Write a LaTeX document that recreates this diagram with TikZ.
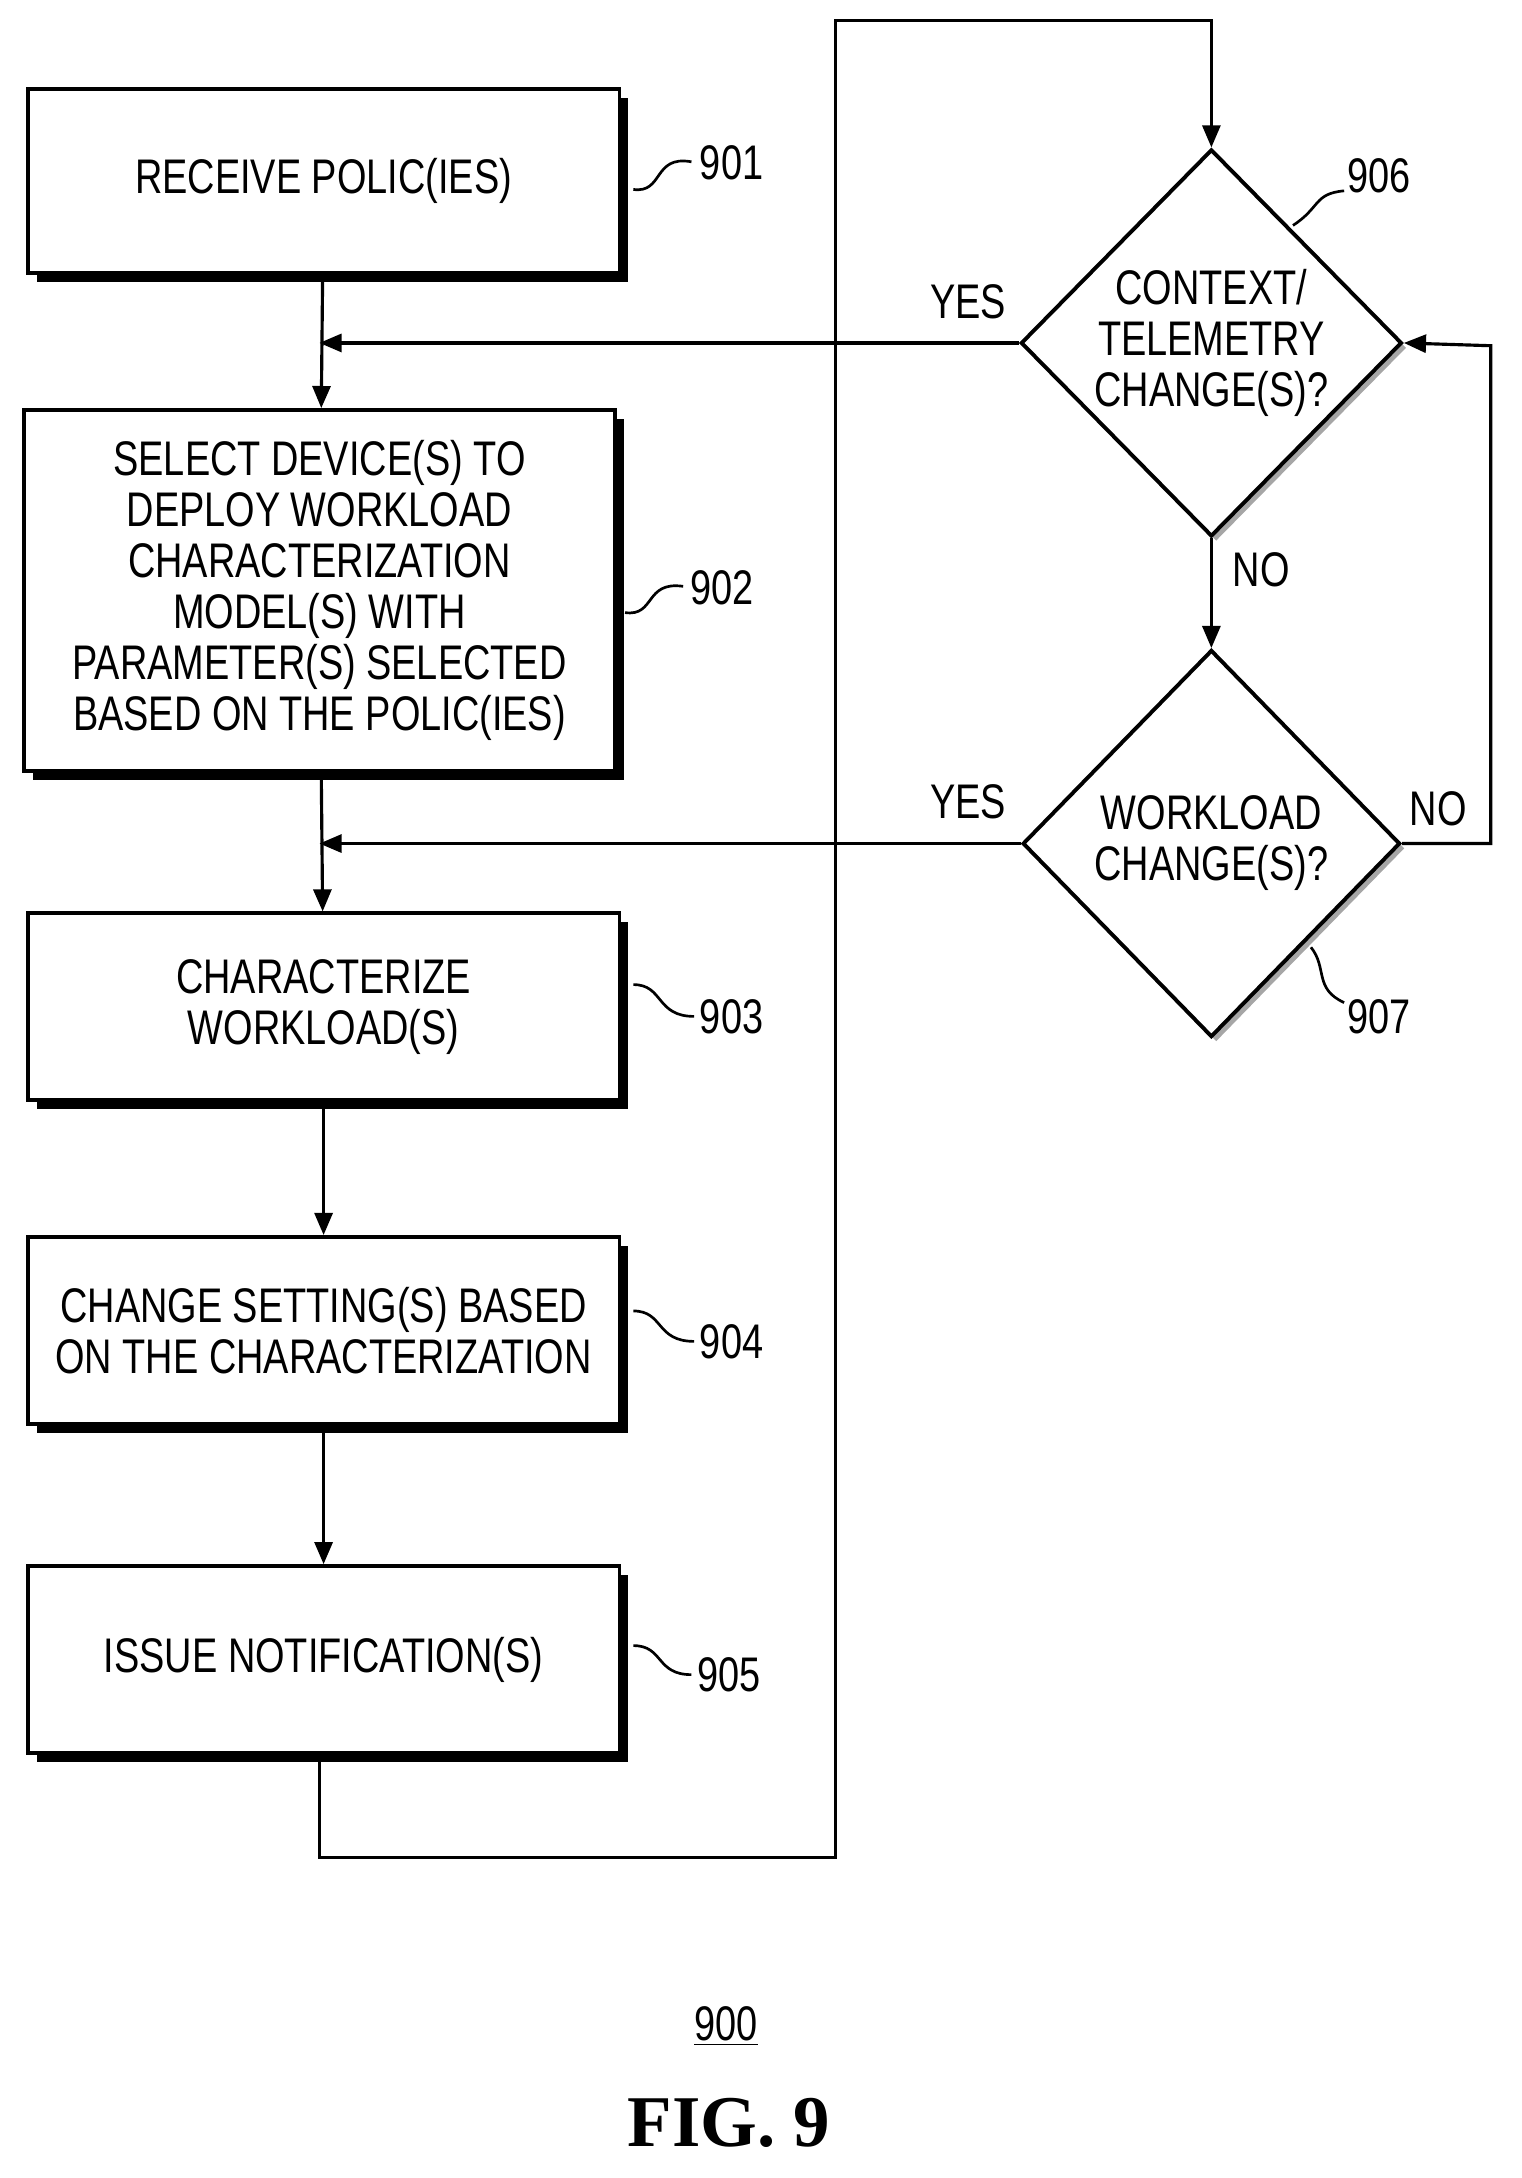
\documentclass[tikz,border=0pt]{standalone}
\usepackage{fontspec}
\setmainfont[FakeStretch=0.78]{Liberation Sans}
\newfontfamily\figfont{Liberation Serif}
\usetikzlibrary{shapes.geometric,arrows.meta,shadows}
\begin{document}
\begin{tikzpicture}
                [
                    x=0.02cm, y=-0.02cm,
                    line width=1.3pt,
                    every node/.style={font=\fontsize{20}{21}\selectfont},
                    process/.style={draw, line width=1.6pt, fill=white, align=center,
                        minimum width=8.56cm, inner sep=0pt,
                        drop shadow={shadow xshift=0.13cm, shadow yshift=-0.13cm,
                            opacity=1, fill=black}},
                    decision/.style={draw, line width=1.6pt, fill=white, shape=diamond,
                        align=center, minimum width=5.46cm, minimum height=5.6cm,
                        inner sep=0pt,
                        drop shadow={shadow xshift=0.07cm, shadow yshift=-0.07cm,
                            opacity=1, fill=gray!70}},
                    flow/.style={-{Triangle[length=0.32cm, width=0.26cm]}},
                    line/.style={line width=1.1pt},
                    tag/.style={anchor=west, inner sep=0pt}
                ]
                \useasboundingbox (0,0) rectangle (1100,1575);

                \node (s901) [process, minimum height=2.66cm] at (234,131)
                    {RECEIVE POLIC(IES)};
                \node (s902) [process, minimum height=5.22cm] at (231,427)
                    {SELECT DEVICE(S) TO\\DEPLOY WORKLOAD\\CHARACTERIZATION\\
                     MODEL(S) WITH\\PARAMETER(S) SELECTED\\BASED ON THE POLIC(IES)};
                \node (s903) [process, minimum height=2.7cm] at (234,728)
                    {CHARACTERIZE\\WORKLOAD(S)};
                \node (s904) [process, minimum height=2.7cm] at (234,962)
                    {CHANGE SETTING(S) BASED\\ON THE CHARACTERIZATION};
                \node (s905) [process, minimum height=2.7cm] at (234,1200)
                    {ISSUE NOTIFICATION(S)};

                \node (d906) [decision] at (876,248)
                    {CONTEXT/\\TELEMETRY\\CHANGE(S)?};
                \node (d907) [decision] at (876,610)
                    {WORKLOAD\\CHANGE(S)?};

                \coordinate (join1) at (231,248);
                \coordinate (join2) at (231,610);
                \coordinate (loop a) at (231,1343);
                \coordinate (loop b) at (604,1343);
                \coordinate (loop c) at (604,15);
                \coordinate (loop d) at (876,15);
                \coordinate (back a) at (1078,610);
                \coordinate (back b) at (1078,250);

                % main flow
                \draw [flow] (s901) -- (s902);
                \draw [flow] (s902) -- (s903);
                \draw [flow] (s903) -- (s904);
                \draw [flow] (s904) -- (s905);
                \draw [flow] (s905.south -| loop a) -- (loop a) -- (loop b)
                    -- (loop c) -- (loop d) -- (d906.north);

                % decisions
                \draw [flow] (d906.west) -- (join1);
                \draw [flow] (d907.west) -- (join2);
                \draw [flow] (d906.south) -- (d907.north);
                \draw [flow] (d907.east) -- (back a) -- (back b) -- (d906.east);

                \node at (700,218) {YES};
                \node at (700,580) {YES};
                \node at (912,412) {NO};
                \node at (1040,585) {NO};

                % reference numerals
                \draw [line] (458,137) .. controls (480,140) and (472,112) .. (500,117);
                \node [tag] at (505,118) {901};
                \draw [line] (452,443) .. controls (474,446) and (466,420) .. (494,424);
                \node [tag] at (498,425) {902};
                \draw [line] (458,712) .. controls (480,712) and (474,735) .. (502,735);
                \node [tag] at (505,735) {903};
                \draw [line] (458,948) .. controls (480,948) and (474,970) .. (502,970);
                \node [tag] at (505,970) {904};
                \draw [line] (458,1190) .. controls (480,1190) and (474,1211) .. (500,1211);
                \node [tag] at (503,1211) {905};
                \draw [line] (935,163) .. controls (955,150) and (950,140) .. (972,138);
                \node [tag] at (973,127) {906};
                \draw [line] (948,685) .. controls (960,700) and (950,715) .. (972,725);
                \node [tag] at (973,735) {907};

                \node (fig num) at (525,1465) {\underline{900}};
                \node (fig title) at (527,1535)
                    {\figfont\fontsize{30}{32}\selectfont\bfseries FIG. 9};
            \end{tikzpicture}
\end{document}
